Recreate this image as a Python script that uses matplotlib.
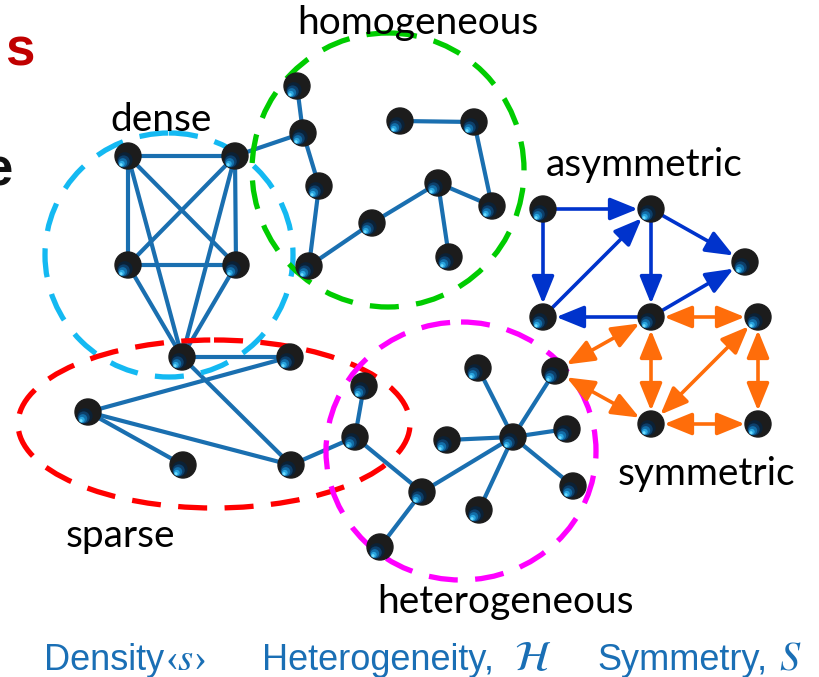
import numpy as np
import matplotlib.pyplot as plt
from matplotlib.patches import Circle, Ellipse, FancyArrowPatch

# node positions (image pixel coordinates, y downwards)
node_names = ["A1", "A2", "A3", "A4", "C",
              "S1", "S2", "S3", "S4",
              "H1", "H2", "H3", "H4", "H5", "H6", "H7", "H8", "H9", "H10",
              "E1", "E2", "E3", "E4", "E5", "E6", "E7", "E8", "E9", "E10", "E11",
              "D1", "D2", "D3", "D4", "D5", "D6", "D7", "D8"]
node_x = [128, 235, 128, 236, 182,
          290, 88, 183, 291,
          297, 303, 319, 309, 372, 438, 492, 449, 400, 474,
          364, 355, 422, 380, 447, 478, 513, 555, 567, 573, 479,
          543, 651, 745, 543, 651, 758, 651, 758]
node_y = [156, 156, 265, 265, 357,
          357, 412, 465, 465,
          86, 133, 186, 266, 223, 183, 206, 257, 121, 122,
          386, 437, 492, 547, 440, 368, 437, 371, 429, 486, 510,
          209, 209, 262, 317, 317, 317, 424, 424]

# undirected edges
edges = [("A1", "A2"), ("A1", "A3"), ("A1", "A4"), ("A2", "A3"), ("A2", "A4"), ("A3", "A4"),
         ("A1", "C"), ("A2", "C"), ("A3", "C"), ("A4", "C"), ("A2", "H2"),
         ("C", "S1"), ("S2", "S1"), ("S2", "S3"), ("S2", "S4"), ("C", "S4"), ("S4", "E2"),
         ("H1", "H2"), ("H2", "H3"), ("H3", "H4"), ("H4", "H5"), ("H5", "H6"), ("H6", "H7"),
         ("H6", "H8"), ("H9", "H10"), ("H10", "H7"),
         ("E1", "E2"), ("E2", "E3"), ("E3", "E4"), ("E3", "E7"), ("E5", "E7"), ("E6", "E7"),
         ("E8", "E7"), ("E9", "E7"), ("E10", "E7"), ("E11", "E7")]
# directed (asymmetric) edges
arcs = [("D1", "D2"), ("D1", "D4"), ("D4", "D2"), ("D2", "D5"), ("D2", "D3"),
        ("D5", "D3"), ("D5", "D4")]
# bidirectional (symmetric) edges
sym_edges = [("D5", "D6"), ("D5", "E8"), ("D5", "D7"), ("D6", "D7"), ("D6", "D8"),
             ("D7", "D8"), ("E8", "D7")]

# group outlines: center x, center y, width, height, colour
regions = [(169, 255, 248, 244, "#14b9f2"),
           (388, 170, 272, 274, "#00cc00"),
           (214, 424, 392, 168, "#ff0000"),
           (461, 451, 270, 258, "#ff00ff")]

labels = ["homogeneous", "dense", "asymmetric", "symmetric", "sparse", "heterogeneous"]
label_x = [418, 161, 644, 706, 120, 506]
label_y = [34, 131, 176, 485, 547, 613]

pos = {n: (x, y) for n, x, y in zip(node_names, node_x, node_y)}

fig = plt.figure(figsize=(8.19, 6.77), dpi=100)
ax = fig.add_axes([0, 0, 1, 1])
ax.set_xlim(0, 819)
ax.set_ylim(677, 0)
ax.set_aspect("equal")
ax.axis("off")

edge_col = "#1a6fb0"
for a, b in edges:
    ax.plot([pos[a][0], pos[b][0]], [pos[a][1], pos[b][1]], color=edge_col, lw=3.0,
            solid_capstyle="butt", zorder=2)

for cx, cy, w, h, col in regions:
    ax.add_patch(Ellipse((cx, cy), w, h, fill=False, ec=col, lw=3.8,
                         linestyle=(0, (5.5, 3.3)), zorder=3))

R = 13
for a, b in arcs:
    ax.add_patch(FancyArrowPatch(pos[a], pos[b], arrowstyle="-|>,head_length=1.6,head_width=0.65",
                                 mutation_scale=10.5, color="#0033cc", lw=2.6,
                                 shrinkA=9.5, shrinkB=9.5, zorder=4))
for a, b in sym_edges:
    ax.add_patch(FancyArrowPatch(pos[a], pos[b], arrowstyle="<|-|>,head_length=1.6,head_width=0.65",
                                 mutation_scale=10.5, color="#ff6d0a", lw=2.6,
                                 shrinkA=9.5, shrinkB=9.5, zorder=4))

# nodes: black balls with a small cyan highlight
shade = [(0.60, "#0b2136"), (0.46, "#0d3f6a"), (0.34, "#126ea8"), (0.22, "#2aa6e0"), (0.12, "#6fdcff")]
for n in node_names:
    x, y = pos[n]
    ball = Circle((x, y), R, color="#1c1c1c", zorder=5)
    ax.add_patch(ball)
    d = np.array([-0.62, 0.78])
    for f, col in shade:
        c = np.array([x, y]) + d * (R - f * R) * 0.98
        spot = Circle(tuple(c), f * R, color=col, zorder=6, lw=0)
        ax.add_patch(spot)
        spot.set_clip_path(ball)

lab_font = ["Lato", "DejaVu Sans"]
for t, x, y in zip(labels, label_x, label_y):
    ax.text(x, y, t, fontsize=28, family=lab_font, ha="center", va="baseline", zorder=7)

# clipped title fragments at the left edge
ax.text(5, 65, "s", fontsize=38, fontweight="bold", color="#c00000", family="Liberation Sans",
        ha="left", va="baseline")
ax.text(13, 186, "e", fontsize=38, fontweight="bold", color="#111111", family="Liberation Sans",
        ha="right", va="baseline")

blue = "#1a6fb5"
plt.rcParams["mathtext.fontset"] = "stix"
sans = "Liberation Sans"
serif = "Liberation Serif"
ax.text(44, 670, "Density", fontsize=26, color=blue, family=sans, va="baseline")
ax.text(165, 670, "\u2039$s$\u203a", fontsize=28, color=blue, family=serif, va="baseline")
ax.text(262, 670, "Heterogeneity,", fontsize=26, color=blue, family=sans, va="baseline")
ax.text(514, 670, r"$\mathcal{H}$", fontsize=30, color=blue, va="baseline")
ax.text(597, 670, "Symmetry,", fontsize=26, color=blue, family=sans, va="baseline")
ax.text(779, 670, r"$S$", fontsize=29, color=blue, va="baseline")

fig.savefig("out.png", dpi=100)
